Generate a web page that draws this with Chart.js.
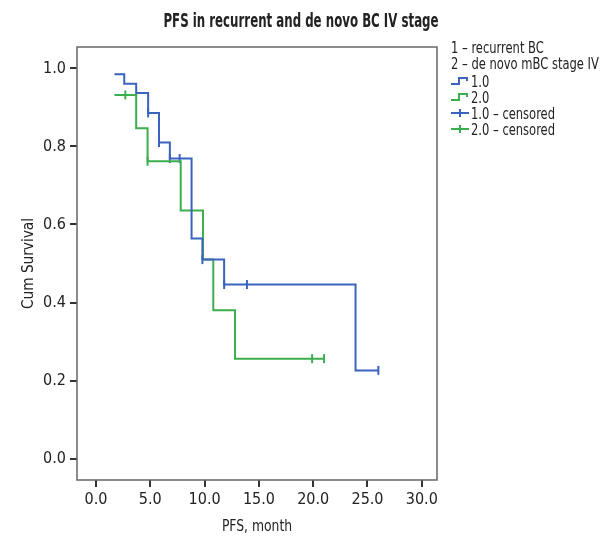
<!DOCTYPE html>
<html><head><meta charset="utf-8">
<script src="https://cdn.jsdelivr.net/npm/chart.js@4/dist/chart.umd.min.js"></script>
<style>html,body{margin:0;padding:0;background:#fff;} canvas{display:block}</style>
</head><body><canvas id="c" width="602" height="538"></canvas>
<script>
const chartTitle = "PFS in recurrent and de novo BC IV stage";
const legendHeader = ["1 – recurrent BC", "2 – de novo mBC stage IV"];
const seriesNames = ["1.0", "2.0"];
const censoredNames = ["1.0 – censored", "2.0 – censored"];
const xTitle = "PFS, month";
const yTitle = "Cum Survival";
const xTickValues = [0, 5, 10, 15, 20, 25, 30];
const yTickValues = [0, 0.2, 0.4, 0.6, 0.8, 1.0];

const g1Time = [1.7, 2.6, 3.7, 4.8, 5.8, 6.8, 8.8, 9.8, 11.8, 23.9, 26.0];
const g1Surv = [0.985, 0.961, 0.937, 0.886, 0.810, 0.769, 0.564, 0.510, 0.446, 0.226, 0.226];
const g1CensTime = [4.8, 5.8, 6.8, 7.7, 9.8, 11.8, 13.9, 26.0];
const g1CensSurv = [0.886, 0.810, 0.769, 0.769, 0.510, 0.446, 0.446, 0.226];

const g2Time = [1.7, 3.7, 4.75, 7.8, 9.85, 10.8, 12.8, 21.0];
const g2Surv = [0.932, 0.847, 0.762, 0.636, 0.510, 0.380, 0.256, 0.256];
const g2CensTime = [2.7, 4.75, 19.9, 21.0];
const g2CensSurv = [0.932, 0.762, 0.256, 0.256];

const BLUE = "#3a62bf";
const GREEN = "#3cae4e";
const TXT = "#222";
const FF = "'Liberation Sans Narrow','DejaVu Sans Condensed','Roboto Condensed','Liberation Sans',sans-serif";

const pts = (xs, ys) => xs.map((x, i) => ({x: x, y: ys[i]}));

function scaledText(ctx, text, x, y, sx, align, rot) {
  ctx.save();
  ctx.translate(x, y);
  if (rot) ctx.rotate(rot);
  ctx.scale(sx, 1);
  ctx.textAlign = align;
  ctx.fillText(text, 0, 0);
  ctx.restore();
}

const boxPlugin = {
  id: 'box',
  beforeDatasetsDraw(chart) {
    const a = chart.chartArea, ctx = chart.ctx;
    ctx.save();
    ctx.strokeStyle = '#666';
    ctx.lineWidth = 1.5;
    ctx.strokeRect(a.left, a.top, a.right - a.left, a.bottom - a.top);
    ctx.restore();
  },
  afterDraw(chart) {
    const ctx = chart.ctx, a = chart.chartArea;
    ctx.save();
    ctx.fillStyle = TXT;
    ctx.textBaseline = 'alphabetic';
    ctx.font = "bold 19px " + FF;
    scaledText(ctx, chartTitle, 301, 27, 0.69, 'center');
    ctx.font = "16px " + FF;
    scaledText(ctx, xTitle, (a.left + a.right) / 2, 531, 0.86, 'center');
    scaledText(ctx, yTitle, 33, (a.top + a.bottom) / 2, 0.95, 'center', -Math.PI / 2);
    const x0 = 451;
    const sx = 0.8;
    const base = [53, 69, 87, 103, 119, 135];
    scaledText(ctx, legendHeader[0], x0, base[0], sx, 'left');
    scaledText(ctx, legendHeader[1], x0, base[1], sx, 'left');
    const cols = [BLUE, GREEN];
    for (let i = 0; i < 2; i++) {
      const yc = base[2 + i] - 6;
      ctx.strokeStyle = cols[i];
      ctx.lineWidth = 2;
      ctx.beginPath();
      ctx.moveTo(x0, yc + 3); ctx.lineTo(x0 + 8, yc + 3); ctx.lineTo(x0 + 8, yc - 3);
      ctx.lineTo(x0 + 16, yc - 3); ctx.lineTo(x0 + 16, yc);
      ctx.stroke();
      scaledText(ctx, seriesNames[i], x0 + 20, base[2 + i], sx, 'left');
    }
    for (let i = 0; i < 2; i++) {
      const yc = base[4 + i] - 6;
      ctx.strokeStyle = cols[i];
      ctx.lineWidth = 2;
      ctx.beginPath();
      ctx.moveTo(x0, yc); ctx.lineTo(x0 + 18, yc);
      ctx.moveTo(x0 + 9, yc - 4); ctx.lineTo(x0 + 9, yc + 4);
      ctx.stroke();
      scaledText(ctx, censoredNames[i], x0 + 20, base[4 + i], sx, 'left');
    }
    ctx.restore();
  }
};

new Chart(document.getElementById('c'), {
  type: 'line',
  data: {
    datasets: [
      {data: pts(g1Time, g1Surv), borderColor: BLUE, borderWidth: 2, stepped: true, pointRadius: 0, fill: false},
      {data: pts(g2Time, g2Surv), borderColor: GREEN, borderWidth: 2, stepped: true, pointRadius: 0, fill: false},
      {data: pts(g1CensTime, g1CensSurv), showLine: false, pointStyle: 'line', rotation: 90, pointRadius: 4.5, borderColor: BLUE, pointBorderWidth: 2},
      {data: pts(g2CensTime, g2CensSurv), showLine: false, pointStyle: 'line', rotation: 90, pointRadius: 4.5, borderColor: GREEN, pointBorderWidth: 2}
    ]
  },
  options: {
    responsive: false,
    animation: false,
    devicePixelRatio: 1,
    layout: {padding: {top: 47, right: 165, left: 0, bottom: 0}},
    plugins: {legend: {display: false}, tooltip: {enabled: false}, title: {display: false}},
    scales: {
      x: {
        type: 'linear', min: -1.75, max: 31.4,
        afterBuildTicks: s => { s.ticks = xTickValues.map(v => ({value: v})); },
        afterFit: s => { s.height = 58; },
        ticks: {callback: v => Number(v).toFixed(1), color: TXT, font: {family: FF, size: 16}, padding: 3, maxRotation: 0, autoSkip: false},
        grid: {display: true, drawOnChartArea: false, drawTicks: true, tickLength: 7, color: '#333', lineWidth: 2},
        border: {display: false},
        title: {display: false}
      },
      y: {
        type: 'linear', min: -0.055, max: 1.055,
        afterBuildTicks: s => { s.ticks = yTickValues.map(v => ({value: v})); },
        afterFit: s => { s.width = 77; },
        ticks: {callback: v => Number(v).toFixed(1), color: TXT, font: {family: FF, size: 16}, padding: 4, autoSkip: false},
        grid: {display: true, drawOnChartArea: false, drawTicks: true, tickLength: 7, color: '#333', lineWidth: 2},
        border: {display: false},
        title: {display: false}
      }
    }
  },
  plugins: [boxPlugin]
});
</script></body></html>
